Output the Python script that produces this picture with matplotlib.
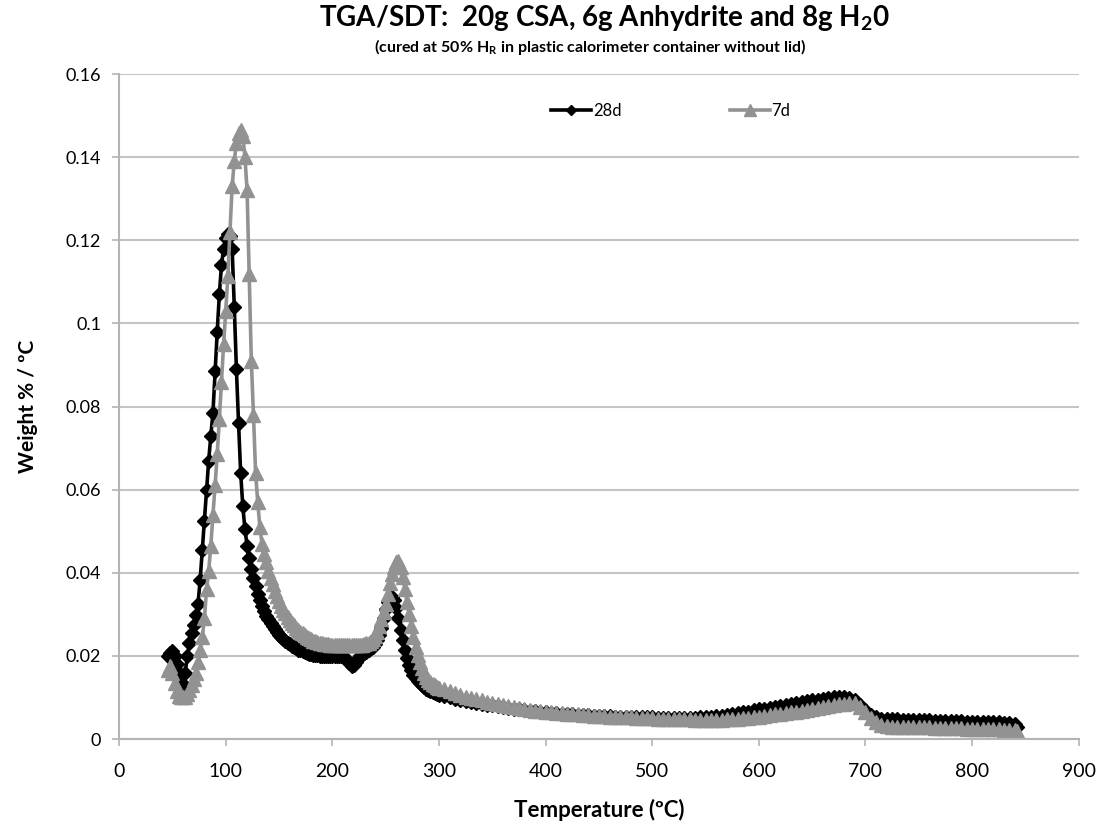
import matplotlib
matplotlib.use('Agg')
import matplotlib.pyplot as plt
from matplotlib.ticker import FuncFormatter

plt.rcParams['font.family'] = ['Lato', 'DejaVu Sans']
plt.rcParams['mathtext.fontset'] = 'custom'
plt.rcParams['mathtext.rm'] = 'Lato'
plt.rcParams['mathtext.bf'] = 'Lato:bold'

# temperature grid (degC)
temp = [46, 48, 50, 52, 54, 56, 58, 60, 62, 64,
        66, 68, 70, 72, 74, 76, 78, 80, 82, 84,
        86, 88, 90, 92, 94, 96, 98, 100, 102, 104,
        106, 108, 110, 112, 114, 116, 118, 120, 122, 124,
        126, 128, 130, 132, 134, 136, 138, 140, 142, 144,
        146, 148, 150, 152, 154, 156, 158, 160, 162, 164,
        166, 168, 170, 172, 174, 176, 178, 180, 182, 184,
        186, 188, 190, 192, 194, 196, 198, 200, 202, 204,
        206, 208, 210, 212, 214, 216, 218, 220, 222, 224,
        226, 228, 230, 232, 234, 236, 238, 240, 242, 244,
        246, 248, 250, 252, 254, 256, 258, 260, 262, 264,
        266, 268, 270, 272, 274, 276, 278, 280, 282, 284,
        286, 288, 290, 292, 294, 296, 298, 300,
        305, 310, 315, 320, 325, 330, 335, 340, 345, 350,
        355, 360, 365, 370, 375, 380, 385, 390, 395, 400,
        405, 410, 415, 420, 425, 430, 435, 440, 445, 450,
        455, 460, 465, 470, 475, 480, 485, 490, 495, 500,
        505, 510, 515, 520, 525, 530, 535, 540, 545, 550,
        555, 560, 565, 570, 575, 580, 585, 590, 595, 600,
        605, 610, 615, 620, 625, 630, 635, 640, 645, 650,
        655, 660, 665, 670, 675, 680, 685, 690, 695, 700,
        705, 710, 715, 720, 725, 730, 735, 740, 745, 750,
        755, 760, 765, 770, 775, 780, 785, 790, 795, 800,
        805, 810, 815, 820, 825, 830, 835, 840,
        842]

d28 = [0.0200, 0.0208, 0.0212, 0.0200, 0.0180, 0.0158, 0.0138, 0.0128, 0.0160, 0.0200,
       0.0230, 0.0255, 0.0275, 0.0298, 0.0325, 0.0383, 0.0455, 0.0525, 0.0600, 0.0670,
       0.0730, 0.0785, 0.0885, 0.0980, 0.1070, 0.1140, 0.1180, 0.1205, 0.1215, 0.1210,
       0.1180, 0.1040, 0.0890, 0.0760, 0.0640, 0.0560, 0.0505, 0.0465, 0.0435, 0.0410,
       0.0388, 0.0368, 0.0350, 0.0335, 0.0320, 0.0308, 0.0297, 0.0288, 0.0279, 0.0271,
       0.0264, 0.0257, 0.0251, 0.0246, 0.0241, 0.0236, 0.0232, 0.0228, 0.0224, 0.0221,
       0.0218, 0.0215, 0.0213, 0.0211, 0.0209, 0.0207, 0.0205, 0.0204, 0.0203, 0.0202,
       0.0201, 0.0200, 0.0200, 0.0200, 0.0200, 0.0200, 0.0200, 0.0200, 0.0200, 0.0200,
       0.0200, 0.0200, 0.0199, 0.0196, 0.0190, 0.0182, 0.0176, 0.0178, 0.0186, 0.0195,
       0.0200, 0.0203, 0.0206, 0.0210, 0.0214, 0.0218, 0.0222, 0.0228, 0.0238, 0.0250,
       0.0268, 0.0290, 0.0312, 0.0330, 0.0340, 0.0342, 0.0335, 0.0315, 0.0290, 0.0262,
       0.0238, 0.0215, 0.0195, 0.0178, 0.0165, 0.0155, 0.0147, 0.0140, 0.0134, 0.0129,
       0.0125, 0.0121, 0.0118, 0.0115, 0.0112, 0.0110, 0.0108, 0.0106,
       0.0103, 0.0100, 0.0097, 0.0094, 0.0091, 0.0089, 0.0087, 0.0085, 0.0083, 0.0081,
       0.0079, 0.0077, 0.0075, 0.0073, 0.0071, 0.0070, 0.0068, 0.0067, 0.0065, 0.0064,
       0.0063, 0.0062, 0.0061, 0.0060, 0.0059, 0.0058, 0.0058, 0.0057, 0.0056, 0.0056,
       0.0055, 0.0055, 0.0054, 0.0054, 0.0053, 0.0053, 0.0053, 0.0052, 0.0052, 0.0052,
       0.0051, 0.0051, 0.0051, 0.0051, 0.0050, 0.0050, 0.0051, 0.0051, 0.0052, 0.0053,
       0.0054, 0.0055, 0.0056, 0.0058, 0.0060, 0.0062, 0.0064, 0.0066, 0.0069, 0.0071,
       0.0073, 0.0075, 0.0077, 0.0079, 0.0082, 0.0084, 0.0087, 0.0089, 0.0091, 0.0093,
       0.0095, 0.0097, 0.0098, 0.0100, 0.0101, 0.0100, 0.0098, 0.0093, 0.0083, 0.0070,
       0.0058, 0.0052, 0.0049, 0.0048, 0.0047, 0.0047, 0.0046, 0.0046, 0.0046, 0.0045,
       0.0045, 0.0045, 0.0044, 0.0044, 0.0044, 0.0043, 0.0043, 0.0043, 0.0042, 0.0042,
       0.0042, 0.0041, 0.0041, 0.0040, 0.0040, 0.0039, 0.0038, 0.0036,
       0.0030]

d7 = [0.0165, 0.0175, 0.0160, 0.0135, 0.0115, 0.0104, 0.0100, 0.0100, 0.0102, 0.0108,
      0.0118, 0.0130, 0.0145, 0.0160, 0.0185, 0.0215, 0.0245, 0.0290, 0.0360, 0.0405,
      0.0465, 0.0540, 0.0610, 0.0685, 0.0770, 0.0860, 0.0950, 0.1030, 0.1115, 0.1220,
      0.1330, 0.1390, 0.1435, 0.1458, 0.1465, 0.1452, 0.1400, 0.1320, 0.1120, 0.0910,
      0.0780, 0.0640, 0.0570, 0.0510, 0.0470, 0.0445, 0.0425, 0.0405, 0.0388, 0.0372,
      0.0357, 0.0344, 0.0332, 0.0321, 0.0311, 0.0302, 0.0294, 0.0287, 0.0280, 0.0274,
      0.0268, 0.0263, 0.0258, 0.0254, 0.0250, 0.0246, 0.0243, 0.0240, 0.0237, 0.0235,
      0.0233, 0.0231, 0.0230, 0.0229, 0.0228, 0.0228, 0.0227, 0.0227, 0.0227, 0.0227,
      0.0227, 0.0227, 0.0227, 0.0227, 0.0227, 0.0227, 0.0227, 0.0227, 0.0227, 0.0227,
      0.0227, 0.0227, 0.0228, 0.0230, 0.0232, 0.0235, 0.0240, 0.0247, 0.0258, 0.0272,
      0.0288, 0.0305, 0.0325, 0.0350, 0.0375, 0.0398, 0.0415, 0.0425, 0.0428, 0.0415,
      0.0390, 0.0360, 0.0330, 0.0300, 0.0272, 0.0245, 0.0222, 0.0202, 0.0185, 0.0170,
      0.0158, 0.0150, 0.0143, 0.0138, 0.0133, 0.0129, 0.0126, 0.0123,
      0.0120, 0.0115, 0.0110, 0.0106, 0.0102, 0.0099, 0.0096, 0.0093, 0.0090, 0.0087,
      0.0084, 0.0082, 0.0079, 0.0077, 0.0075, 0.0072, 0.0070, 0.0068, 0.0067, 0.0065,
      0.0064, 0.0063, 0.0062, 0.0061, 0.0060, 0.0059, 0.0058, 0.0057, 0.0056, 0.0055,
      0.0055, 0.0054, 0.0053, 0.0053, 0.0052, 0.0052, 0.0051, 0.0051, 0.0050, 0.0050,
      0.0049, 0.0049, 0.0048, 0.0048, 0.0047, 0.0047, 0.0047, 0.0046, 0.0046, 0.0046,
      0.0046, 0.0046, 0.0046, 0.0047, 0.0047, 0.0048, 0.0050, 0.0051, 0.0053, 0.0054,
      0.0056, 0.0057, 0.0059, 0.0060, 0.0062, 0.0064, 0.0066, 0.0068, 0.0070, 0.0072,
      0.0075, 0.0078, 0.0080, 0.0082, 0.0084, 0.0085, 0.0087, 0.0087, 0.0078, 0.0064,
      0.0050, 0.0040, 0.0034, 0.0031, 0.0030, 0.0030, 0.0029, 0.0029, 0.0029, 0.0028,
      0.0028, 0.0028, 0.0027, 0.0027, 0.0027, 0.0026, 0.0026, 0.0026, 0.0025, 0.0025,
      0.0025, 0.0024, 0.0024, 0.0023, 0.0023, 0.0022, 0.0022, 0.0021,
      0.0019]

xticks = [0, 100, 200, 300, 400, 500, 600, 700, 800, 900]
yticks = [0, 0.02, 0.04, 0.06, 0.08, 0.1, 0.12, 0.14, 0.16]

fig = plt.figure(figsize=(11.03, 8.27), dpi=100)
ax = fig.add_axes([0.108, 0.1064, 0.870, 0.8041])

ax.plot(temp, d28, color='black', lw=2.6, marker='D', ms=7, label='28d')
ax.plot(temp, d7, color='#929292', lw=2.6, marker='^', ms=10, label='7d')

ax.set_xlim(0, 900)
ax.set_ylim(0, 0.16)
ax.set_xticks(xticks)
ax.set_yticks(yticks)
ax.yaxis.set_major_formatter(FuncFormatter(lambda v, p: ('%g' % round(v, 2))))
ax.grid(axis='y', color='#c4c4c4', lw=1.5)
ax.set_axisbelow(True)
for s in ['top', 'right']:
    ax.spines[s].set_visible(False)
for s in ['left', 'bottom']:
    ax.spines[s].set_color('#b4b4b4')
    ax.spines[s].set_linewidth(1.5)
ax.tick_params(axis='both', color='#b4b4b4', width=1.2, length=5)
ax.tick_params(axis='y', labelsize=13, pad=8)
ax.tick_params(axis='x', labelsize=14, pad=12)

ax.set_xlabel('Temperature (ºC)', fontsize=16, fontweight='bold', labelpad=14)
ax.set_ylabel('Weight % / ºC', fontsize=15, fontweight='bold', labelpad=20)

fig.text(0.548, 0.978, r'TGA/SDT:  20g CSA, 6g Anhydrite and 8g H$_\mathbf{2}$0',
         ha='center', va='center', fontsize=20, fontweight='bold')
fig.text(0.535, 0.943, r'(cured at 50% H$_\mathbf{R}$ in plastic calorimeter container without lid)',
         ha='center', va='center', fontsize=11.5, fontweight='bold')

ax.legend(loc='center', bbox_to_anchor=(0.575, 0.944), ncol=2, frameon=False,
          fontsize=12, handlelength=2.4, handletextpad=0.1, columnspacing=6.5,
          markerscale=0.8)

fig.savefig('out.png', dpi=100)
